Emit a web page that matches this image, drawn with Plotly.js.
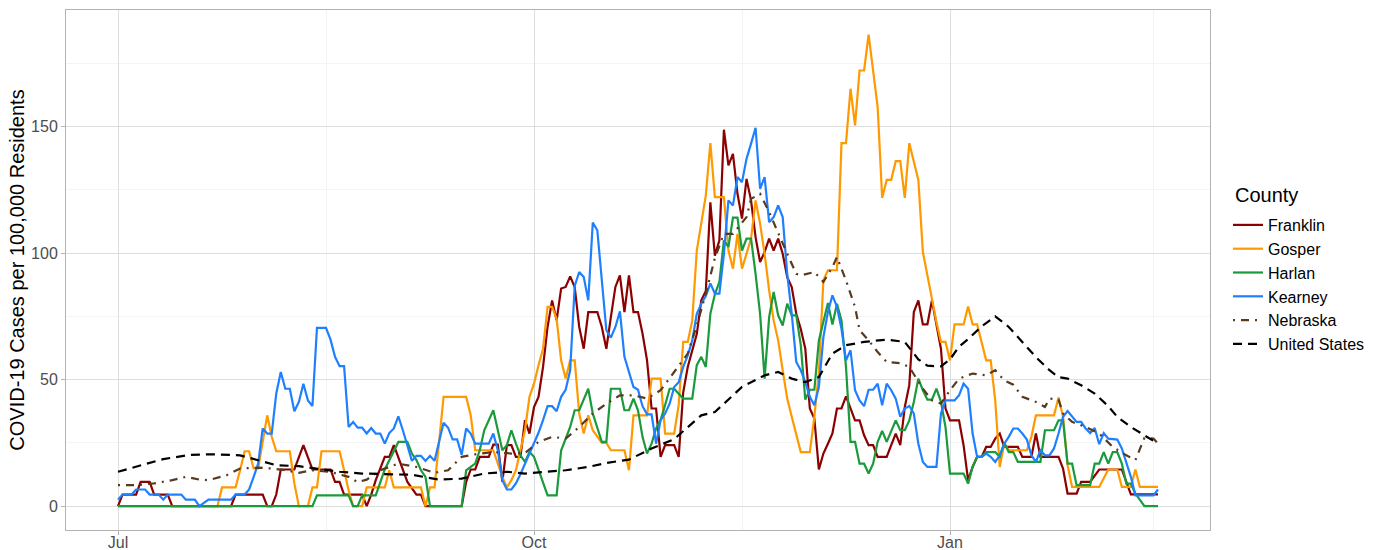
<!DOCTYPE html>
<html>
<head>
<meta charset="utf-8">
<script src="https://cdn.plot.ly/plotly-3.0.1.min.js"></script>
<style>
html,body{margin:0;padding:0;background:#ffffff;}
#chart{width:1379px;height:550px;}
</style>
</head>
<body>
<div id="chart"></div>
<script>
// Day offsets are counted from 2020-07-01.
const seriesStart = [2020, 6, 1];

const franklinDays = [0,1,4,5,7,8,11,12,25,26,32,33,34,35,36,39,41,42,43,47,48,49,50,54,55,56,57,59,60,61,62,63,64,66,67,68,76,77,78,79,80,82,83,84,85,86,87,88,89,90,91,92,93,94,95,96,97,98,99,100,101,102,103,104,106,107,108,109,110,111,112,113,114,115,116,117,118,119,120,121,123,124,125,126,127,128,129,130,131,132,133,134,135,136,137,138,139,140,141,142,143,144,145,146,147,148,149,150,151,152,153,154,155,156,157,158,159,160,161,162,163,164,165,166,167,168,170,171,172,173,174,175,176,177,178,179,180,181,182,183,184,186,187,188,189,190,191,192,193,194,195,196,199,200,202,203,204,208,209,210,212,213,215,217,222,223,224,230];
const franklinVals = [0,4.6,4.6,9.6,9.6,4.6,4.6,0,0,4.6,4.6,0,0,4.6,14.5,14.5,24.1,19,14.5,14.5,9.6,9.6,4.6,4.6,0,4.6,10.3,19.5,19.5,24.1,19.5,14.5,9.6,4.6,4.6,0,0,9.6,14.5,14.5,19.5,19.5,24.3,24.3,9.6,24.1,24.1,19.5,19.5,34,28.7,39.2,43.2,55,70.8,81.3,73.4,86,86.6,90.8,86.6,70.8,62.2,76.7,76.7,70.8,62.2,74.7,86.6,91.2,76.7,91.2,76.7,76.7,68.2,57.6,38.6,38.6,19.5,24.1,24.1,19.5,45,55,61.6,68,81.3,85,120,99,105,148.7,134.6,139.2,123.4,113.6,129.3,120.8,106.3,96.4,100.4,105.7,101,105.7,99.7,90.5,86.6,76,70,62.2,38.6,34.6,14.5,20.8,24.7,28.7,38.6,38.6,43.4,38.6,33.9,33.9,28,24.1,24.1,19.5,19.5,24.1,28.7,24.1,39.2,47.8,76.7,81.3,71.8,71.8,81.3,71.8,62.2,38.6,33.9,33.9,24.1,10.3,15.5,19.5,19.5,23.4,23.4,26.7,28.7,23.4,23.4,19.5,19.5,28.7,19.5,19.5,14.9,5,5,9.6,9.6,14.5,14.5,9.6,4.7,4.7];

const gosperDays = [0,22,23,26,27,28,29,30,31,33,34,35,38,39,40,42,43,44,45,49,50,51,52,54,55,59,60,61,67,68,69,70,72,77,78,79,83,84,85,86,87,88,89,90,91,92,93,94,95,96,97,98,99,100,101,102,103,104,105,107,108,109,112,113,114,117,118,120,121,123,124,125,126,127,128,130,131,132,134,135,136,137,138,139,140,141,142,143,144,145,146,147,148,149,150,151,153,154,155,156,157,159,160,161,162,163,164,165,166,168,169,170,171,172,173,174,175,177,178,179,180,181,182,183,184,185,187,188,189,190,192,193,194,195,196,197,201,202,203,207,208,209,210,211,217,219,221,222,224,225,226,230];
const gosperVals = [0,0,7.4,7.4,14.2,21.7,21.7,14.9,14.9,35.9,27.4,21.7,21.7,9,0,0,7.4,7.4,21.7,21.7,14.2,6.3,0,0,7.4,7.4,14.2,7.4,7.4,0,7.4,7.4,43.2,43.2,35.9,22.1,22.1,16.8,11.6,7.4,10.3,14.2,22.1,30,43.2,48.4,55.7,62.2,78.7,78.7,74,57.6,50.4,57.6,57.6,36.6,28.7,35.9,30,25,25,22.1,22.1,14.2,35.9,35.9,50.4,50.4,28.7,28.7,40,64.9,64.9,73.4,101,122.8,143.4,122.1,122.1,101,93.8,107.6,93.8,99.7,105.7,120.8,111.6,99.7,85.3,73.4,65.5,53.7,42.5,35.3,28.7,21.4,21.4,35.3,53,89.2,93.2,93.2,143.4,143.4,164.9,150.4,172.1,172.1,186.3,157.6,121.8,128.9,128.9,136.3,136.3,121.8,143.4,128.9,100.4,90.5,82,72.8,64.9,64.9,57.6,71.8,71.8,78.9,71.8,71.8,57.6,57.6,41.8,15.5,24.7,22.1,22.1,27.4,35.9,35.9,42.9,35.3,16.2,7.6,7.6,14.5,14.5,7.6,7.6,14.5,7.6,7.6];

const harlanDays = [0,43,44,51,52,53,54,57,59,61,62,64,65,66,67,68,69,76,77,78,79,80,81,83,85,86,87,88,89,90,91,92,93,94,95,97,98,100,101,102,103,104,105,106,107,108,109,111,112,113,114,115,116,117,118,119,120,121,122,123,125,127,128,129,130,131,132,133,134,135,136,137,138,139,140,141,142,143,144,145,146,147,148,149,150,151,152,153,154,155,156,157,158,159,160,161,162,163,164,165,166,167,168,169,170,171,172,173,174,175,176,177,178,179,180,181,182,183,184,187,188,189,190,191,192,194,195,196,197,198,199,204,205,207,208,209,210,211,212,215,216,217,218,219,220,221,222,223,224,225,227,230];
const harlanVals = [0,0,4.3,4.3,0,0,4.3,4.3,14.5,22,25.4,25.4,20.8,18.2,14.2,11.6,0,0,14.2,15.5,16.8,22.1,30,37.9,22.1,24.1,30,24.7,20.1,17.5,21.4,19.5,14.2,9,4.3,4.3,22,31.3,37.9,37.9,42.5,46.4,36.6,31.3,25.4,25.4,46.4,46.4,37.9,37.9,42.5,37.9,27.4,20.8,24.7,30.7,34,40,46.4,46.4,42.5,42.5,55.7,59,55,76,83.7,88.6,105,102.4,114,114,101,105.7,105.7,91.8,76,50.4,74.7,84.6,75.4,71.4,80,75.4,75.4,63.6,42.1,46,46,65.5,72.8,80.3,71.8,80,73.4,55,25.4,25.4,16.8,16.8,12.9,16.8,25.4,29.7,25.4,29.7,33.9,30,30,33.9,41.2,50.4,45.8,42.1,42.1,46.4,41.2,31.3,12.9,12.9,8.9,15.5,19.5,19.5,21.4,21.4,19.5,25,21.4,21.4,17.5,17.5,30,30,33.9,33.9,16.8,16.8,8.3,8.3,16.8,16.8,21.4,16.8,21.4,21.4,16.8,8.9,8.9,5,0,0];

const kearneyDays = [0,1,3,4,6,7,9,10,11,14,15,17,18,20,25,26,28,29,30,31,32,33,34,35,36,37,38,39,40,41,42,43,44,46,47,48,49,50,51,52,53,54,55,56,57,58,59,60,61,62,63,64,65,66,67,68,69,70,72,73,74,75,76,77,78,79,82,83,84,85,86,87,88,89,90,91,93,94,95,96,97,98,99,100,101,102,103,104,105,106,107,108,109,110,111,112,114,115,116,117,118,119,120,121,122,123,124,125,126,127,128,129,130,131,132,133,134,135,136,137,138,139,140,141,142,143,144,145,146,147,148,149,150,151,152,153,154,155,156,157,158,159,160,161,162,163,164,165,166,167,168,169,170,171,172,173,174,175,176,177,178,179,181,182,183,185,186,187,188,189,190,191,192,193,194,195,196,197,198,199,200,201,202,203,204,205,206,207,208,209,210,211,212,213,214,215,216,217,218,219,221,222,223,224,225,229,230];
const kearneyVals = [2.6,4.6,4.6,6.6,6.6,4.6,4.6,2.6,4.6,4.6,2.6,2.6,0,2.6,2.6,4.6,4.6,6.6,11.6,16.8,30.7,28.7,28.7,44.5,53,46.4,46.4,37.5,41.2,48.4,41.8,39.6,70.4,70.4,65.8,59,55.3,55.3,31.3,33.3,31,31,28.7,30.9,28.7,28.7,24.7,28.9,30.7,35.5,30,23.4,17.9,19.9,19.9,17.9,19.9,17.9,33,31,26.4,26.4,20.3,30.7,28.7,24.7,24.7,28.7,22.1,10.3,6.6,6.6,9,12.6,16.8,20.5,29,34,39.5,39.5,37.5,43.2,46,53.7,87,92.5,90.5,81.3,112,109,90,69.5,66.6,70.8,77,59,47.1,46,39.5,36.3,36.3,24.7,34,36.6,40.5,47.1,49,55,59.6,65.5,76,80,83,88,84,84,99.7,120.8,118.8,130,128,137.2,143.2,149.5,125.4,130,112.2,114.2,118.8,114.2,91.8,76,57,53.7,49,43.2,39.9,47.1,66.8,76.7,83.3,78.7,70.1,57.6,61.6,45.8,41.8,39.5,46,46,48.4,39.9,48.4,45.8,42.5,35.3,38.6,39.6,36.6,24.7,17.5,15.5,15.5,36.6,41.8,41.8,43.8,48.4,46.4,28.7,19.5,19.5,20.8,19.5,17.5,20.1,24.7,27.4,30.7,30.7,28.7,26.3,20.1,17.5,22.1,20.1,20.1,22.8,28.7,35.3,37.6,35.3,33.3,33.3,30.7,28.9,30.9,24.5,28.9,26.7,26.3,22.8,17.5,11.6,4.3,4.3,6.6];

const nebraskaDays = [0,4,8,12,15,18,20,24,27,31,34,37,40,43,47,51,53,55,58,62,66,70,73,76,79,83,87,90,93,96,99,102,105,108,111,114,117,120,123,126,128,130,132,134,136,139,140,142,144,146,148,150,151,154,156,158,159,161,163,164,166,168,170,173,175,178,180,182,184,186,189,192,194,196,198,200,203,205,206,208,209,211,214,217,220,223,225,227,229,230];
const nebraskaVals = [8.3,8.3,9,10.3,11.6,10.5,10.3,12.2,14.9,15.2,14.9,14.2,13.2,14.2,13.5,11.6,9.5,10.5,14.2,16.8,15.5,13.2,14.2,19.5,20.5,21.4,20.8,21,25.4,27.4,26.7,31.3,36.6,40.5,43.8,43.8,42.5,45.8,53,60.3,71.4,84,98,107.6,107.6,114.2,121.4,123.4,116.2,107.6,99.7,91.8,91.2,92.5,88.6,94.5,98.4,89.2,78.7,69.5,65.5,60.9,57,56.5,55,46.4,41.8,40.5,45.8,50.4,52.4,51.7,53.7,49.7,48,43.2,41.2,39.2,42.5,42.1,36.6,33.3,31.3,28.7,23.4,20.1,18.2,27,26.7,24.7];

const usDays = [0,5,10,16,21,27,31,35,40,44,49,54,59,65,71,76,81,86,90,95,99,104,108,113,118,123,126,129,132,135,138,143,146,149,152,155,158,161,165,170,174,177,179,182,184,186,188,191,194,197,200,203,206,208,210,213,216,219,221,224,227,230];
const usVals = [13.6,16,18.6,20.3,20.5,20.1,18.2,16.2,15.8,14.9,13.6,12.9,12.6,12.4,10.5,10.9,12.9,13.6,12.9,13.6,14.2,15.5,17.1,18.4,22.8,26.5,31.3,35.9,37.2,42,47.1,51.7,53,50.4,49,51,60.3,63.6,64.9,65.8,64.9,58,55.5,55.2,58,63,66,71,75,70.8,64.9,58.9,53.7,51,50.4,47.8,44.5,39.5,35.3,31.3,28,24.7];

const seriesNames = ['Franklin','Gosper','Harlan','Kearney','Nebraska','United States'];
const seriesColors = ['#8B0000','#FF9900','#1A9A3C','#1E80FF','#5A3A1E','#000000'];
const seriesDashes = ['solid','solid','solid','solid','2px,6px,8px,6px','9px,6px'];
const legendTitle = 'County';

const xTickVals = ['2020-07-01','2020-10-01','2021-01-01'];
const xTickText = ['Jul','Oct','Jan'];
const xMinorVals = ['2020-08-16','2020-11-16','2021-02-15'];
const yTickVals = [0,50,100,150];
const yTickText = ['0','50','100','150'];
const yMinorVals = [25,75,125,175];

function toDates(days){
  const t0 = Date.UTC(seriesStart[0], seriesStart[1], seriesStart[2]);
  return days.map(d => new Date(t0 + d*86400000).toISOString().slice(0,10));
}

const allDays = [franklinDays, gosperDays, harlanDays, kearneyDays, nebraskaDays, usDays];
const allVals = [franklinVals, gosperVals, harlanVals, kearneyVals, nebraskaVals, usVals];

const traces = seriesNames.map((name, i) => ({
  type: 'scatter',
  mode: 'lines',
  name: name,
  x: toDates(allDays[i]),
  y: allVals[i],
  line: {color: seriesColors[i], width: 2.2, dash: seriesDashes[i], shape: 'linear'},
  hoverinfo: 'skip'
}));

const fontFam = '"Liberation Sans", Arial, Helvetica, sans-serif';

const layout = {
  width: 1379,
  height: 550,
  margin: {l: 66, r: 169, t: 10, b: 20, pad: 0},
  paper_bgcolor: '#ffffff',
  plot_bgcolor: '#ffffff',
  font: {family: fontFam, color: '#000000'},
  showlegend: true,
  xaxis: {
    type: 'date',
    range: ['2020-06-19 12:00', '2021-02-27 12:00'],
    tickmode: 'array',
    tickvals: xTickVals,
    ticktext: xTickText,
    showgrid: true,
    gridcolor: '#DEDEDE',
    gridwidth: 1,
    minor: {tickmode: 'array', tickvals: xMinorVals, showgrid: true, gridcolor: '#EDEDED', gridwidth: 0.6, ticks: ''},
    showline: true,
    mirror: true,
    linecolor: '#B3B3B3',
    linewidth: 1,
    ticks: 'outside',
    ticklen: 4,
    tickwidth: 1,
    tickcolor: '#B3B3B3',
    ticklabelstandoff: -6,
    tickfont: {family: fontFam, size: 16, color: '#4D4D4D'},
    zeroline: false,
    automargin: false
  },
  yaxis: {
    range: [-9.4, 196],
    tickmode: 'array',
    tickvals: yTickVals,
    ticktext: yTickText,
    showgrid: true,
    gridcolor: '#DEDEDE',
    gridwidth: 1,
    minor: {tickmode: 'array', tickvals: yMinorVals, showgrid: true, gridcolor: '#EDEDED', gridwidth: 0.6, ticks: ''},
    showline: true,
    mirror: true,
    linecolor: '#B3B3B3',
    linewidth: 1,
    ticks: 'outside',
    ticklen: 4,
    tickwidth: 1,
    tickcolor: '#B3B3B3',
    tickfont: {family: fontFam, size: 16, color: '#4D4D4D'},
    zeroline: false,
    automargin: false,
    title: {text: 'COVID-19 Cases per 100,000 Residents', font: {family: fontFam, size: 20, color: '#000000'}, standoff: 1}
  },
  legend: {
    font: {family: fontFam, size: 16, color: '#000000'},
    xref: 'container',
    yref: 'container',
    x: 1228/1379,
    y: 1 - 208/550,
    xanchor: 'left',
    yanchor: 'top',
    bgcolor: 'rgba(0,0,0,0)',
    borderwidth: 0,
    tracegroupgap: 0
  },
  annotations: [{
    text: legendTitle,
    xref: 'paper', yref: 'paper',
    x: (1233 - 66) / 1144, y: (530 - 195) / 520,
    xanchor: 'left', yanchor: 'middle',
    showarrow: false,
    font: {family: fontFam, size: 20, color: '#000000'}
  }]
};

Plotly.newPlot('chart', traces, layout, {staticPlot: true, displayModeBar: false});
</script>
</body>
</html>
